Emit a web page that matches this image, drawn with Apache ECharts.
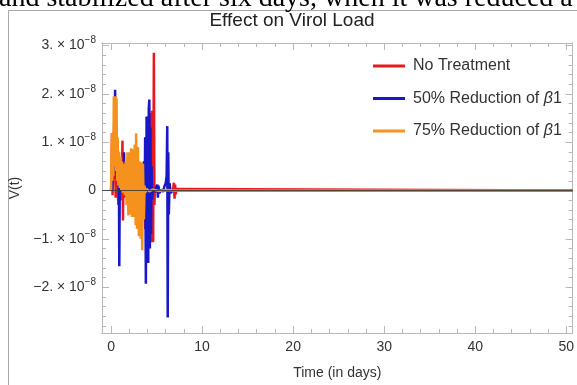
<!DOCTYPE html>
<html>
<head>
<meta charset="utf-8">
<script src="https://cdn.jsdelivr.net/npm/echarts@6/dist/echarts.min.js"></script>
<style>
html,body{margin:0;padding:0;background:#fff;}
#chart{width:577px;height:385px;}
</style>
</head>
<body>
<div id="chart"></div>
<script>
// ---- data (values in units of 1e-8) ----
const SCALE = 1e-8;
const seriesNames = ['No Treatment', '50% Reduction of β1', '75% Reduction of β1'];
const redData = [
  [0,0],[0.05,0.4],[0.1,1.18],[0.16,-0.1],[0.25,0.6],[0.4,1.85],[0.5,-0.15],[0.65,0.35],
  [0.8,-0.3],[1.0,0.4],[1.15,-0.2],[1.25,1.03],[1.3,-0.62],[1.36,0.3],[1.45,-0.15],[1.6,0.1],
  [1.8,-0.2],[2.0,0.2],[2.3,-0.3],[2.6,0.3],[2.9,-0.4],[3.05,0.1],[3.3,-0.5],[3.55,0.4],
  [3.75,-0.8],[3.9,1.1],[4.0,-1.0],[4.1,1.4],[4.2,-1.1],[4.32,1.6],[4.42,-1.07],[4.5,1.65],
  [4.62,-1.07],[4.7,2.85],[4.76,-0.3],[4.82,0.1],[4.9,-0.03],[5.2,0],[6.8,0],[6.9,0.16],
  [6.97,-0.17],[7.03,0.12],[7.1,-0.08],[7.2,0.03],[7.4,0],[50.7,0]
];
const blueData = [
  [0,0],[0.05,0.1],[0.1,0.0],[0.2,0.5],[0.3,1.2],[0.38,0.4],[0.44,2.08],[0.5,0.8],[0.55,0.3],
  [0.62,0.25],[0.7,0.27],[0.8,0.2],[0.86,0.1],[0.9,-1.57],[0.95,0.05],[1.05,0.15],[1.2,0.1],
  [1.36,0.3],[1.42,0.79],[1.47,-0.1],[1.55,0.15],[1.7,0.0],[2.0,0.05],[2.5,-0.05],[2.9,0.05],
  [3.0,-0.1],[3.05,-0.66],[3.1,-0.2],[3.3,-0.5],[3.45,0.1],[3.6,0.6],[3.68,-0.4],[3.74,1.1],
  [3.82,-1.93],[3.9,1.53],[3.96,-1.3],[4.02,1.3],[4.08,-1.5],[4.14,1.7],[4.2,1.88],[4.26,-1.2],
  [4.32,1.3],[4.38,-0.9],[4.44,0.5],[4.5,-0.2],[4.6,0.05],[4.8,-0.03],[5.0,0.0],[5.08,0.12],
  [5.14,-0.15],[5.2,0.1],[5.3,-0.06],[5.5,0.02],[5.7,-0.03],[5.85,0.08],[6.0,0.15],[6.1,0.3],
  [6.17,1.33],[6.22,-2.63],[6.28,0.79],[6.34,-0.5],[6.42,0.15],[6.55,-0.05],[6.8,0.0],[50.7,0]
];
const orangeData = [
  [0,0],[0.04,0.7],[0.1,1.18],[0.14,0.2],[0.2,1.0],[0.24,0.3],[0.3,1.95],[0.35,0.5],[0.4,1.9],
  [0.45,0.6],[0.5,1.95],[0.55,0.4],[0.6,1.9],[0.65,0.2],[0.72,1.1],[0.8,0.1],[0.88,0.8],
  [0.96,0.05],[1.04,0.7],[1.12,0.0],[1.2,0.6],[1.3,-0.05],[1.4,0.55],[1.5,-0.1],[1.6,0.6],
  [1.7,-0.3],[1.8,0.79],[1.9,-0.52],[2.0,0.79],[2.1,-0.5],[2.2,0.87],[2.3,-0.55],[2.4,0.85],
  [2.5,-0.55],[2.6,0.95],[2.7,-0.72],[2.75,1.18],[2.85,-0.8],[2.95,0.9],[3.05,-0.95],[3.15,0.6],
  [3.25,-1.0],[3.35,0.58],[3.42,-1.24],[3.5,0.55],[3.6,-0.6],[3.68,0.1],[3.75,-0.05],[3.9,0.03],
  [4.2,-0.02],[4.6,0.02],[5.2,-0.01],[6.0,0.01],[7.0,0],[50.7,0]
];
const xMajorTicks = [0, 10, 20, 30, 40, 50];
const xMinorTicks = [2,4,6,8,12,14,16,18,22,24,26,28,32,34,36,38,42,44,46,48];
const yMajorTicks = [-2e-8, -1e-8, 0, 1e-8, 2e-8, 3e-8];
const yMinorSteps = [-14,-13,-12,-11,-9,-8,-7,-6,-4,-3,-2,-1,1,2,3,4,6,7,8,9,11,12,13,14,15]; // in 0.2e-8 steps

// ---- build ----
const yMinorTicks = yMinorSteps.map(s => s * 0.2e-8);
const toReal = arr => arr.map(p => [p[0], p[1] * SCALE]);
const FONT = '"Liberation Sans", Arial, sans-serif';
const frameColor = '#b8b8b8';
const labelColor = '#333';
const X_MIN = -1, X_MAX = 50.7, Y_MIN = -2.95e-8, Y_MAX = 3.05e-8;

function xAx(pos, ticks, len, labels) {
  return {
    type: 'value', min: X_MIN, max: X_MAX, position: pos,
    axisLine: { show: true, onZero: false, lineStyle: { color: frameColor, width: 1 } },
    axisTick: { show: true, inside: true, length: len, customValues: ticks, lineStyle: { color: frameColor } },
    axisLabel: labels ? { show: true, customValues: ticks, margin: 7, color: labelColor, fontSize: 14, fontFamily: FONT } : { show: false },
    splitLine: { show: false },
    name: labels ? 'Time (in days)' : '',
    nameLocation: 'middle', nameGap: 33,
    nameTextStyle: { color: labelColor, fontSize: 14, fontFamily: FONT }
  };
}
function yFmt(v) {
  const n = Math.round(v / 1e-8);
  if (n === 0) return '0';
  const s = (n < 0 ? '\u2212' : '') + Math.abs(n);
  return '{m|' + s + '. \u00d7 10}{s|\u22128}';
}
function yAx(pos, ticks, len, labels) {
  return {
    type: 'value', min: Y_MIN, max: Y_MAX, position: pos,
    axisLine: { show: true, onZero: false, lineStyle: { color: frameColor, width: 1 } },
    axisTick: { show: true, inside: true, length: len, customValues: ticks, lineStyle: { color: frameColor } },
    axisLabel: labels ? {
      show: true, customValues: ticks, margin: 6, color: labelColor, fontSize: 14, fontFamily: FONT,
      formatter: yFmt,
      rich: {
        m: { fontSize: 14, fontFamily: FONT, color: labelColor },
        s: { fontSize: 10, fontFamily: FONT, color: labelColor, padding: [0, 0, 10, 0] }
      }
    } : { show: false },
    splitLine: { show: false },
    name: labels ? 'V(t)' : '',
    nameLocation: 'middle', nameGap: 78, nameRotate: 90,
    nameTextStyle: { color: labelColor, fontSize: 14, fontFamily: FONT }
  };
}

const colors = ['#e8191e', '#1818c8', '#f5921e'];
const datasets = [redData, blueData, orangeData];

const chart = echarts.init(document.getElementById('chart'), null, { renderer: 'canvas' });
chart.setOption({
  animation: false,
  backgroundColor: '#fff',
  grid: { left: 102, top: 43, right: 2, bottom: 52, containLabel: false },
  xAxis: [
    xAx('bottom', xMajorTicks, 7, true),
    xAx('bottom', xMinorTicks, 4, false),
    xAx('top', xMajorTicks, 7, false),
    xAx('top', xMinorTicks, 4, false)
  ],
  yAxis: [
    yAx('left', yMajorTicks, 7, true),
    yAx('left', yMinorTicks, 4, false),
    yAx('right', yMajorTicks, 7, false),
    yAx('right', yMinorTicks, 4, false)
  ],
  legend: {
    orient: 'vertical', left: 368, top: 52,
    icon: 'rect', itemWidth: 32, itemHeight: 3, itemGap: 14.5,
    data: seriesNames,
    textStyle: {
      fontSize: 16, fontFamily: FONT, color: labelColor, lineHeight: 18, padding: [0, 0, 0, 3],
      rich: { b: { fontStyle: 'italic', fontSize: 16, fontFamily: FONT, color: labelColor } }
    },
    formatter: name => name.replace('β', '{b|β}')
  },
  series: datasets.map((d, i) => ({
    name: seriesNames[i], type: 'line', xAxisIndex: 0, yAxisIndex: 0,
    data: toReal(d), symbol: 'none', showSymbol: false,
    lineStyle: { color: colors[i], width: 2.5 }, itemStyle: { color: colors[i] },
    z: 2 + i,
    markLine: i === 2 ? {
      silent: true, symbol: 'none', label: { show: false },
      lineStyle: { color: '#3a3a3a', width: 1, type: 'solid', opacity: 0.85 },
      data: [{ yAxis: 0 }]
    } : undefined
  })),
  graphic: [
    { type: 'rect', z: -10, shape: { x: 8.5, y: 10.5, width: 620, height: 420 },
      style: { fill: 'none', stroke: '#a8a8a8', lineWidth: 1 } },
    { type: 'text', x: -1, y: -1, style: { text: 'and stabilized after six days, when it was reduced a',
      fontSize: 28, fontFamily: '"Liberation Serif", "Times New Roman", serif', fill: '#000', align: 'left', verticalAlign: 'middle' } },
    { type: 'text', x: 292, y: 21, style: { text: 'Effect on Virol Load',
      fontSize: 19, fontFamily: FONT, fill: '#222', align: 'center', verticalAlign: 'middle' } }
  ]
});
</script>
</body>
</html>
